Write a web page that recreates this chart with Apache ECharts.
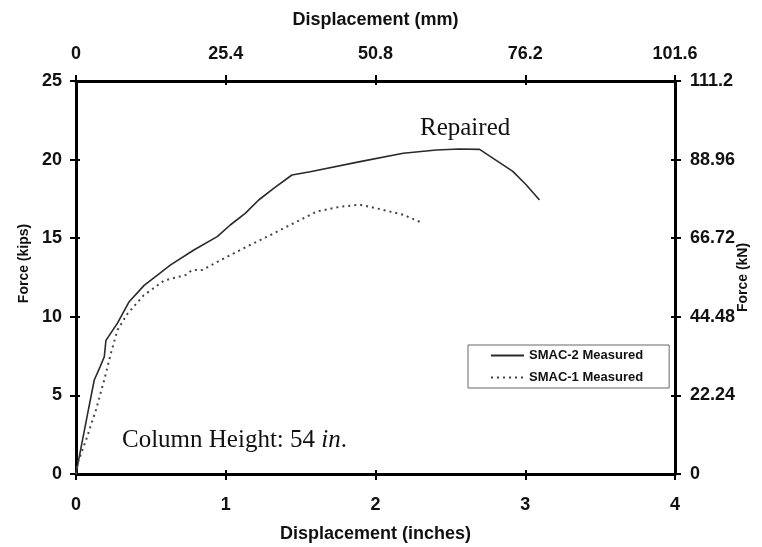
<!DOCTYPE html>
<html>
<head>
<meta charset="utf-8">
<script src="https://cdn.jsdelivr.net/npm/echarts@6/dist/echarts.min.js"></script>
<style>
  html, body { margin: 0; padding: 0; background: #fff; }
  #chart { width: 762px; height: 547px; }
</style>
</head>
<body>
<div id="chart"></div>
<script>
// Force–displacement response of the two SMAC columns
const smac2Disp  = [0, 0.022, 0.078, 0.122, 0.16, 0.189, 0.2, 0.277, 0.355, 0.455, 0.632, 0.787, 0.943, 1.03, 1.13, 1.22, 1.32, 1.442, 1.564, 1.897, 2.185, 2.407, 2.56, 2.695, 2.917, 3.006, 3.095];
const smac2Force = [0, 1.1, 3.86, 5.98, 6.8, 7.46, 8.5, 9.6, 10.96, 12.0, 13.3, 14.25, 15.1, 15.84, 16.58, 17.43, 18.17, 19.02, 19.23, 19.87, 20.4, 20.61, 20.67, 20.65, 19.25, 18.4, 17.43];

const smac1Disp  = [0, 0.011, 0.067, 0.133, 0.189, 0.233, 0.277, 0.344, 0.45, 0.588, 0.732, 0.776, 0.843, 0.965, 1.142, 1.298, 1.453, 1.608, 1.764, 1.897, 2.03, 2.185, 2.318];
const smac1Force = [0, 0.7, 2.16, 4.07, 6.0, 7.68, 9.16, 10.2, 11.35, 12.3, 12.66, 12.98, 12.98, 13.6, 14.47, 15.2, 15.95, 16.7, 17.0, 17.13, 16.85, 16.49, 15.95];

// Axis ranges and tick labels
const inchMax = 4, inchStep = 1;
const kipMax = 25, kipStep = 5;
const mmTickLabels = ['0', '25.4', '50.8', '76.2', '101.6'];
const kNTickLabels = ['0', '22.24', '44.48', '66.72', '88.96', '111.2'];
const mmMax = 101.6, kNMax = 111.2;

const seriesNames = ['SMAC-2 Measured', 'SMAC-1 Measured'];

const sans = 'Liberation Sans, Arial, sans-serif';
const serif = 'Liberation Serif, Times New Roman, serif';

const axisLineStyle = { show: true, onZero: false, lineStyle: { color: '#000', width: 3 } };
const outTick = { show: true, inside: false, length: 6, lineStyle: { color: '#000', width: 2 } };
const inTick = { show: true, inside: true, length: 4, lineStyle: { color: '#000', width: 2 } };
const tickLabel = (margin, labels) => ({
  show: true, margin, color: '#111', fontSize: 18, fontWeight: 'bold', fontFamily: sans,
  formatter: labels ? ((v, i) => labels[i]) : undefined
});
const nameText = (size, padding) => ({
  color: '#111', fontSize: size, fontWeight: 'bold', fontFamily: sans, padding: padding || 0
});

// Ticks sit across the frame: one axis draws the outer half, a label-free twin the inner half
function ghost(base) {
  return Object.assign({}, base, {
    name: '', axisLine: { show: false, onZero: false }, axisTick: inTick,
    axisLabel: { show: false }, splitLine: { show: false }
  });
}

const xBottom = {
  type: 'value', position: 'bottom', min: 0, max: inchMax, interval: inchStep,
  axisLine: axisLineStyle, axisTick: outTick, axisLabel: tickLabel(22),
  splitLine: { show: false },
  name: 'Displacement (inches)', nameLocation: 'middle', nameGap: 51, nameTextStyle: nameText(18)
};
const xTop = {
  type: 'value', position: 'top', min: 0, max: mmMax, interval: mmMax / (mmTickLabels.length - 1),
  axisLine: axisLineStyle, axisTick: outTick, axisLabel: tickLabel(18, mmTickLabels),
  splitLine: { show: false },
  name: 'Displacement (mm)', nameLocation: 'middle', nameGap: 52, nameTextStyle: nameText(18)
};
const yLeft = {
  type: 'value', position: 'left', min: 0, max: kipMax, interval: kipStep,
  axisLine: axisLineStyle, axisTick: outTick, axisLabel: tickLabel(14),
  splitLine: { show: false },
  name: 'Force (kips)', nameLocation: 'middle', nameGap: 42,
  nameTextStyle: nameText(14, [0, 0, 0, 28])
};
const yRight = {
  type: 'value', position: 'right', min: 0, max: kNMax, interval: kNMax / (kNTickLabels.length - 1),
  axisLine: axisLineStyle, axisTick: outTick, axisLabel: tickLabel(15, kNTickLabels),
  splitLine: { show: false },
  name: 'Force (kN)', nameLocation: 'middle', nameGap: 61, nameMoveOverlap: false,
  nameTextStyle: nameText(14)
};

const zip = (xs, ys) => xs.map((x, i) => [x, ys[i]]);

const option = {
  animation: false,
  backgroundColor: '#fff',
  grid: { left: 76, right: 87, top: 81, bottom: 73, containLabel: false, outerBoundsMode: 'none' },
  xAxis: [xBottom, xTop, ghost(xBottom), ghost(xTop)],
  yAxis: [yLeft, yRight, ghost(yLeft), ghost(yRight)],
  legend: {
    orient: 'vertical', left: 468, top: 345,
    padding: [4, 26, 4, 22], itemGap: 9, itemWidth: 33, itemHeight: 14,
    borderColor: '#666', borderWidth: 1, backgroundColor: '#fff',
    itemStyle: { opacity: 0 },
    textStyle: { color: '#111', fontSize: 13, fontWeight: 'bold', fontFamily: sans },
    data: seriesNames
  },
  series: [
    {
      name: seriesNames[0], type: 'line', xAxisIndex: 0, yAxisIndex: 0,
      data: zip(smac2Disp, smac2Force), symbol: 'none', smooth: false,
      lineStyle: { color: '#2a2a2a', width: 1.6, type: 'solid' },
      itemStyle: { color: '#2a2a2a' }, z: 3
    },
    {
      name: seriesNames[1], type: 'line', xAxisIndex: 0, yAxisIndex: 0,
      data: zip(smac1Disp, smac1Force), symbol: 'none', smooth: false,
      lineStyle: { color: '#444', width: 2, type: [2, 4] },
      itemStyle: { color: '#444' }, z: 3
    }
  ],
  graphic: [
    {
      type: 'text', left: 420, top: 116,
      style: { text: 'Repaired', font: '25px ' + serif, fill: '#111' }
    },
    {
      type: 'text', left: 122, top: 428,
      style: {
        text: '{n|Column Height: 54 }{i|in}{n|.}',
        rich: {
          n: { fontSize: 25, fontFamily: serif, fill: '#111', color: '#111' },
          i: { fontSize: 25, fontFamily: serif, fontStyle: 'italic', fill: '#111', color: '#111' }
        }
      }
    }
  ]
};

const chart = echarts.init(document.getElementById('chart'), null, { renderer: 'canvas' });
chart.setOption(option);
</script>
</body>
</html>
